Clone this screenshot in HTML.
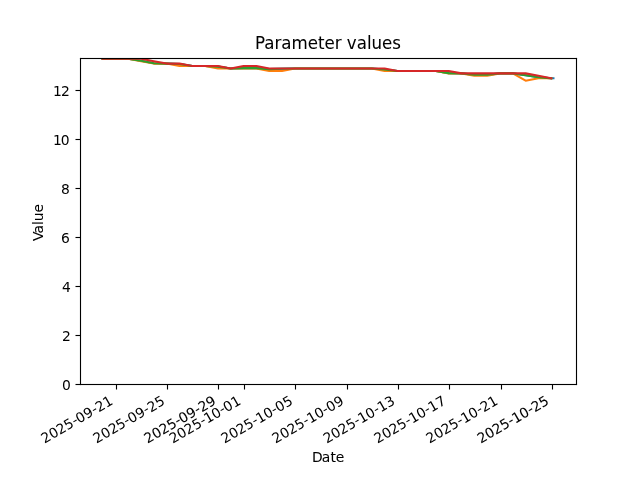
<!DOCTYPE html>
<html lang="en"><head><meta charset="utf-8"><title>Parameter values</title>
<style>
html,body{margin:0;padding:0;background:#fff;}
body{width:640px;height:480px;overflow:hidden;}
svg{display:block;}
text{font-family:"DejaVu Sans","Liberation Sans",sans-serif;fill:#000;}
.t10{font-size:13.8889px;}
.t12{font-size:16.6667px;}
.ln{fill:none;stroke-width:2.0833;stroke-linecap:square;stroke-linejoin:round;}
</style></head><body>
<svg width="640" height="480" viewBox="0 0 640 480" role="img" aria-label="Parameter values">
<rect x="0" y="0" width="640" height="480" fill="#fff"/>
<defs><clipPath id="clip"><rect x="80" y="58" width="496" height="326"/></clipPath></defs>
<text class="t12" transform="translate(327.98 49) scale(1 1.07)" x="-73 -63.75 -53.5 -46.75 -36.5 -20.25 -10 -3.5 6.75 13.5 18.75 28.75 39 43.5 54 64.25" stroke="#000" stroke-width="0.05">Parameter values</text>
<g clip-path="url(#clip)">
<path class="ln" stroke="#1f77b4" d="M102.55 58.70 L115.37 58.70 L128.19 58.70 L141.01 60.78 L153.83 63.23 L166.65 63.59 L179.47 64.08 L192.29 66.04 L205.11 66.04 L217.93 66.65 L230.75 68.48 L243.57 68.12 L256.39 68.12 L269.21 69.10 L282.03 68.73 L294.85 68.48 L307.67 68.48 L320.49 68.48 L333.32 68.48 L346.14 68.48 L358.96 68.48 L371.78 68.48 L384.60 69.46 L397.42 70.93 L410.24 70.93 L423.06 70.93 L435.88 70.93 L448.70 73.13 L461.52 73.38 L474.34 74.72 L487.16 74.72 L499.98 73.38 L512.80 73.38 L525.62 75.21 L538.44 77.29 L551.26 78.27 L553.45 78.27"/>
<path class="ln" stroke="#ff7f0e" d="M102.55 58.70 L115.37 58.70 L128.19 58.70 L141.01 61.15 L153.83 63.59 L166.65 63.59 L179.47 66.04 L192.29 66.04 L205.11 66.04 L217.93 68.48 L230.75 68.48 L243.57 68.48 L256.39 68.48 L269.21 70.93 L282.03 70.93 L294.85 68.48 L307.67 68.48 L320.49 68.48 L333.32 68.48 L346.14 68.48 L358.96 68.48 L371.78 68.48 L384.60 70.93 L397.42 70.93 L410.24 70.93 L423.06 70.93 L435.88 70.93 L448.70 73.38 L461.52 73.38 L474.34 75.82 L487.16 75.82 L499.98 73.38 L512.80 73.38 L525.62 80.71 L538.44 78.27 L551.26 78.27"/>
<path class="ln" stroke="#2ca02c" d="M102.55 58.70 L115.37 58.70 L128.19 58.70 L141.01 60.78 L153.83 63.23 L166.65 63.59 L179.47 64.08 L192.29 66.04 L205.11 66.04 L217.93 66.65 L230.75 68.48 L243.57 68.12 L256.39 68.12 L269.21 69.10 L282.03 68.73 L294.85 68.48 L307.67 68.48 L320.49 68.48 L333.32 68.48 L346.14 68.48 L358.96 68.48 L371.78 68.48 L384.60 69.46 L397.42 70.93 L410.24 70.93 L423.06 70.93 L435.88 70.93 L448.70 73.13 L461.52 73.38 L474.34 74.72 L487.16 74.72 L499.98 73.38 L512.80 73.38 L525.62 75.21 L538.44 77.29 L551.26 78.27"/>
<path class="ln" stroke="#d62728" d="M102.55 58.70 L115.37 58.70 L128.19 58.70 L141.01 58.70 L153.83 61.15 L166.65 63.59 L179.47 63.59 L192.29 66.04 L205.11 66.04 L217.93 66.04 L230.75 68.48 L243.57 66.04 L256.39 66.04 L269.21 68.48 L282.03 68.48 L294.85 68.48 L307.67 68.48 L320.49 68.48 L333.32 68.48 L346.14 68.48 L358.96 68.48 L371.78 68.48 L384.60 68.48 L397.42 70.93 L410.24 70.93 L423.06 70.93 L435.88 70.93 L448.70 70.93 L461.52 73.38 L474.34 73.38 L487.16 73.38 L499.98 73.38 L512.80 73.38 L525.62 73.38 L538.44 75.82 L551.26 78.27"/>
</g>
<g fill="#000">
<rect x="115.9445" y="384.5" width="1.1111" height="5"/>
<rect x="166.9444" y="384.5" width="1.1111" height="5"/>
<rect x="217.9444" y="384.5" width="1.1111" height="5"/>
<rect x="243.9444" y="384.5" width="1.1111" height="5"/>
<rect x="294.9445" y="384.5" width="1.1111" height="5"/>
<rect x="346.9445" y="384.5" width="1.1111" height="5"/>
<rect x="397.9445" y="384.5" width="1.1111" height="5"/>
<rect x="448.9445" y="384.5" width="1.1111" height="5"/>
<rect x="500.9445" y="384.5" width="1.1111" height="5"/>
<rect x="551.9444" y="384.5" width="1.1111" height="5"/>
<rect x="75.5" y="383.9445" width="5" height="1.1111"/>
<rect x="75.5" y="334.9445" width="5" height="1.1111"/>
<rect x="75.5" y="285.9445" width="5" height="1.1111"/>
<rect x="75.5" y="236.9444" width="5" height="1.1111"/>
<rect x="75.5" y="187.9444" width="5" height="1.1111"/>
<rect x="75.5" y="138.9444" width="5" height="1.1111"/>
<rect x="75.5" y="89.9445" width="5" height="1.1111"/>
<rect x="79.9445" y="57.9445" width="1.1111" height="327.1111"/>
<rect x="575.9444" y="57.9445" width="1.1111" height="327.1111"/>
<rect x="79.9445" y="383.9445" width="497.1111" height="1.1111"/>
<rect x="79.9445" y="57.9445" width="497.1111" height="1.1111"/>
</g>
<g>
<text class="t10" transform="translate(44.38 443.82) rotate(-30)" x="0.25 9 17.75 26.5 35.5 40 49 58 62.75 71.5" y="0 0 0 0 -0.75 0 0 -0.75 0 0">2025-09-21</text>
<text class="t10" transform="translate(96.21 443.82) rotate(-30)" x="0.25 9.25 18.25 26.5 35.5 40.25 49 58 62.75 71.5" y="0 0 0 0 -0.75 0 0 -0.75 0.25 0">2025-09-25</text>
<text class="t10" transform="translate(147.29 443.82) rotate(-30)" x="0.25 9.25 17.75 26.5 35.5 40 49 58 62.75 71.5" y="0 0 0 0 -0.75 0 0 -0.75 0 0" stroke="#000" stroke-width="0.05">2025-09-29</text>
<text class="t10" transform="translate(172.45 443.82) rotate(-30)" x="0.25 9 17.75 26.5 35.5 40.25 48.75 57.75 62.5 71.5" y="0 0 0 0 -0.75 0 0 -0.75 0 0">2025-10-01</text>
<text class="t10" transform="translate(224.28 443.82) rotate(-30)" x="0.25 9.25 17.75 26.5 35.5 40.25 49 57.75 62.75 71.5" y="0 0 0 0 -0.75 0 0 -0.5 0 0">2025-10-05</text>
<text class="t10" transform="translate(275.36 443.82) rotate(-30)" x="0.25 9 17.75 26.5 35.5 40.25 49 57.75 62.5 71.5" y="0 0 0 0 -0.75 0 0 -0.5 0 0">2025-10-09</text>
<text class="t10" transform="translate(326.44 443.82) rotate(-30)" x="0.25 9 17.75 26.5 35.5 40.25 48.75 58 62.75 71.5" y="0 0 0 0 -0.75 0 0 -0.75 0 0">2025-10-13</text>
<text class="t10" transform="translate(377.27 443.82) rotate(-30)" x="0.25 9.25 17.75 26.5 35.5 40.25 49 58 62.75 71.5" y="0 0 0 0 -0.75 0 0 -0.75 0 0">2025-10-17</text>
<text class="t10" transform="translate(429.35 443.82) rotate(-30)" x="0.25 9 17.75 26.5 35.5 40.25 49 58 62.75 71.5" y="0 0 0 0 -0.75 0 0 -0.75 0 0">2025-10-21</text>
<text class="t10" transform="translate(480.42 443.82) rotate(-30)" x="0.25 9 17.75 26.5 35.5 40.25 49 58 62.75 71.5" y="0 0 0 0 -0.75 0 0 -0.75 0 0" stroke="#000" stroke-width="0.05">2025-10-25</text>
</g>
<g>
<text class="t10" x="62" y="390">0</text>
<text class="t10" x="62" y="341">2</text>
<text class="t10" x="62" y="292">4</text>
<text class="t10" x="61" y="243">6</text>
<text class="t10" x="61" y="194">8</text>
<text class="t10" x="53 60.75" y="145">10</text>
<text class="t10" x="53 61" y="96">12</text>
</g>
<text class="t10" x="312 321.75 330.5 335.75" y="461.83" stroke="#000" stroke-width="0.05">Date</text>
<text class="t10" transform="translate(43 222.8) rotate(-90)" x="-18.25 -10.75 -2.25 1.5 10.25" stroke="#000" stroke-width="0.05">Value</text>
</svg>
</body></html>
